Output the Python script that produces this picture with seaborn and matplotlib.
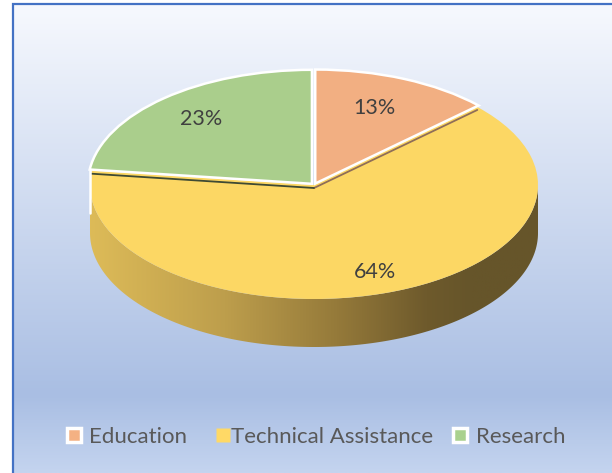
import numpy as np
import matplotlib
matplotlib.use("Agg")
import matplotlib.pyplot as plt
from matplotlib.colors import LinearSegmentedColormap
from matplotlib.legend_handler import HandlerLine2D
from matplotlib.lines import Line2D
from matplotlib.patches import Polygon
import seaborn as sns

categories = ["Education", "Technical Assistance", "Research"]
shares = [13, 64, 23]
colors = ["#F2AF82", "#FCD764", "#AACE8C"]
legend_colors = ["#F4B183", "#FFD966", "#A9D18E"]
label_colors = "#404040"
legend_color = "#595959"

sns.set_theme(style="white")
plt.rcParams["font.family"] = ["Lato", "DejaVu Sans"]

W, H = 612, 473
CX, CY, RX, RY, DEPTH = 314, 185, 224, 114, 48


def px(x):
    return (x - CX) / RX


def py(y):
    return (CY - y) / RY


fig = plt.figure(figsize=(W / 100, H / 100), dpi=100, facecolor="white")
ax = fig.add_axes([0, 0, 1, 1])

palette = sns.color_palette(colors)
wedges, texts, autotexts = ax.pie(
    shares, colors=palette, startangle=90, counterclock=False, radius=1,
    explode=[0.014, 0, 0.014], autopct="%d%%", pctdistance=0.77,
    textprops=dict(color=label_colors, fontsize=15.5),
)
ax.set_aspect("auto")
ax.set_xlim(px(0), px(W))
ax.set_ylim(py(H), py(0))
ax.set_axis_off()

for i in (0, 2):
    wedges[i].set_edgecolor("white")
    wedges[i].set_linewidth(1.8)
    wedges[i].set_zorder(5)
wedges[1].set_zorder(3)
wedges[1].set_edgecolor("none")
wedges[1].set_linewidth(0)

for t, pos in zip(autotexts, [(374, 108), (375, 272), (201, 119)]):
    t.set_position((px(pos[0]), py(pos[1])))
    t.set_zorder(8)

# background gradient
bg = LinearSegmentedColormap.from_list(
    "bg", [(0, "#F7F9FE"), (0.835, "#A9BEE3"), (1, "#C4D4EF")])
ax.imshow(np.linspace(0, 1, 256)[:, None], cmap=bg, aspect="auto",
          extent=(px(13), px(W), py(H), py(4)), zorder=0, vmin=0, vmax=1)
ax.plot([px(12.5), px(12.5), px(W)], [py(H), py(4), py(4)],
        color="#4472C4", lw=1.6, zorder=1, solid_joinstyle="miter")

# side wall of the pie
theta = np.radians(np.linspace(180, 360, 240))
d = DEPTH / RY
top = np.column_stack([np.cos(theta), np.sin(theta)])
bot = np.column_stack([np.cos(theta[::-1]), np.sin(theta[::-1]) - d])
wall = Polygon(np.vstack([top, bot]), closed=True, transform=ax.transData,
               facecolor="none", edgecolor="none")
ax.add_patch(wall)
shade = LinearSegmentedColormap.from_list(
    "shade", [(0, "#DDBB58"), (0.3, "#BD9E4C"), (0.55, "#957A3A"),
              (0.75, "#6E5A2C"), (0.85, "#66552A"), (1, "#66552A")])
im = ax.imshow(np.linspace(0, 1, 256)[None, :], cmap=shade, aspect="auto",
               extent=(-1, 1, -1 - d, 0.1), zorder=2, vmin=0, vmax=1)
im.set_clip_path(wall)
ax.set_xlim(px(0), px(W))
ax.set_ylim(py(H), py(0))

# seams and the white edge left of the wall
a_edu = np.radians(90 - 3.6 * shares[0])
a_res = np.radians(90 - 3.6 * (shares[0] + shares[1]))
off = 3 / RY
ax.plot([np.cos(a_edu), 0], [np.sin(a_edu) - off, -off],
        color="#8F6E58", lw=1.3, zorder=4)
ax.plot([0, np.cos(a_res)], [-off, np.sin(a_res) - off],
        color="#3F4A34", lw=1.3, zorder=4)
ax.plot([np.cos(a_res) - 0.01] * 2, [np.sin(a_res) + 0.01, np.sin(a_res) - d + 0.05],
        color="white", lw=1.8, zorder=6, solid_capstyle="round")

# legend
handles = [
    Line2D([], [], ls="", marker="s", ms=9.7, mfc=legend_colors[0], mec="white", mew=2.5),
    Line2D([], [], ls="", marker="s", ms=9.4, mfc=legend_colors[1], mec="none"),
    Line2D([], [], ls="", marker="s", ms=9.7, mfc=legend_colors[2], mec="white", mew=2.5),
]
leg = ax.legend(handles, categories, ncol=3, frameon=False, loc="center",
                bbox_to_anchor=(314 / W, 1 - 437 / H), fontsize=16,
                labelcolor=legend_color, handlelength=1.0, handletextpad=0.2,
                columnspacing=0.74, borderpad=0, borderaxespad=0,
                handler_map={handles[1]: HandlerLine2D(xpad=0.73)})
leg.set_zorder(10)

fig.savefig("out.png", dpi=100)
